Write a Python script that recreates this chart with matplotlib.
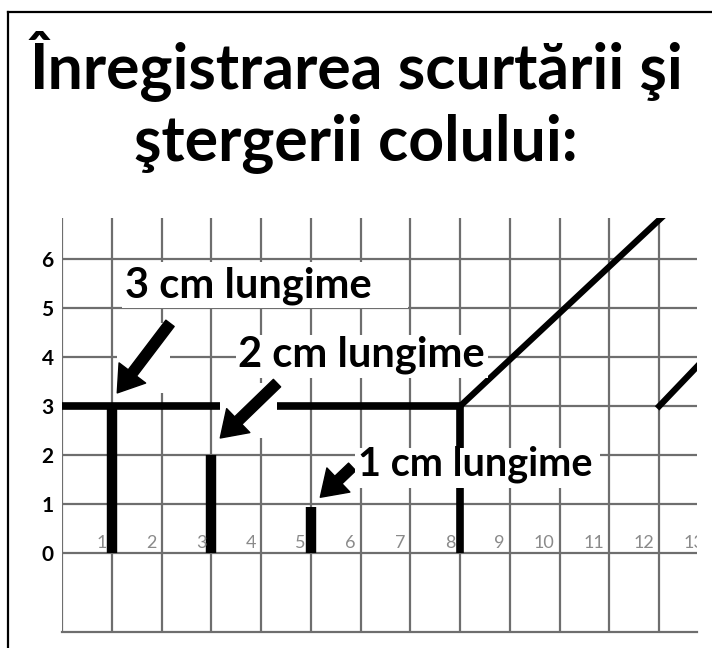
import matplotlib
matplotlib.use("Agg")
import matplotlib.pyplot as plt
from matplotlib.patches import Rectangle
from matplotlib.lines import Line2D

plt.rcParams['font.family'] = ['Lato', 'DejaVu Sans']

title_lines = ["Înregistrarea scurtării şi", "ştergerii colului:"]

hours = list(range(13))
hour_labels = [str(h) for h in range(1, 14)]
cm_ticks = list(range(7))

# cervix length marks (scurtare)
cervix_x = [1, 3, 5]
cervix_len = [3, 2, 0.95]

# dilation record, alert and action lines
dilation_x = [0, 8, 8]
dilation_y = [3, 3, 0]
alert_x = [8, 12.05]
alert_y = [3, 6.85]
action_x = [12, 12.8]
action_y = [3, 3.85]

labels = ["3 cm lungime", "2 cm lungime", "1 cm lungime"]
label_xy = [(1.27, 5.22), (3.54, 3.80), (5.95, 1.59)]
label_box = [(1.21, 5.0, 6.95, 5.94), (3.50, 3.57, 8.55, 4.45), (5.89, 1.33, 10.81, 2.14)]
label_fs = [30, 30, 28.5]
arrow_tail = [(2.17, 4.69), (4.32, 3.47), (5.83, 1.76)]
arrow_tip = [(1.11, 3.27), (3.18, 2.35), (5.19, 1.14)]

fig = plt.figure(figsize=(7.12, 6.48), dpi=100)

# frame around the slide
fig.add_artist(Line2D([0.0112, 0.0112], [0.0, 0.9815], color="black", lw=1.6))
fig.add_artist(Line2D([0.0112, 1.0], [0.9815, 0.9815], color="black", lw=1.6))

fig.text(0.5, 0.864, title_lines[0], ha="center", va="baseline",
         fontsize=45, fontweight="bold")
fig.text(0.5, 0.753, title_lines[1], ha="center", va="baseline",
         fontsize=45, fontweight="bold")

ax = fig.add_axes([0.0871, 0.0247, 0.8919, 0.6389])
ax.set_xlim(0, 12.76)
ax.set_ylim(-1.61, 6.84)

ax.set_xticks(hours)
ax.set_yticks(cm_ticks)
ax.set_xticklabels([])
ax.set_yticklabels([str(c) for c in cm_ticks], fontsize=15, fontweight="bold")
ax.tick_params(length=0, pad=6)
ax.set_axisbelow(True)
ax.grid(True, color="#6e6e6e", lw=1.6)
for side in ["top", "right", "left"]:
    ax.spines[side].set_visible(False)
ax.spines["bottom"].set_color("#6e6e6e")
ax.spines["bottom"].set_linewidth(1.6)

# faint hour numbers printed on the chart paper
for i, lab in enumerate(hour_labels):
    ax.text(i + 1 - 0.1, 0.04, lab, ha="right", va="bottom", fontsize=13,
            color="#8a8a8a", clip_on=True)

ax.vlines(cervix_x, 0, cervix_len, color="black", lw=7.5, zorder=2)
ax.plot(dilation_x, dilation_y, color="black", lw=5.5, zorder=2,
        solid_joinstyle="miter", solid_capstyle="butt")
ax.plot(alert_x, alert_y, color="black", lw=4.5, zorder=2)
ax.plot(action_x, action_y, color="black", lw=4.5, zorder=2)

for (tx, ty), (hx, hy) in zip(arrow_tail, arrow_tip):
    x0, x1 = min(tx, hx), max(tx, hx)
    y0, y1 = min(ty, hy), max(ty, hy)
    ax.add_patch(Rectangle((x0, y0), x1 - x0, y1 - y0, fc="white", ec="none", zorder=3))
    ax.annotate("", xy=(hx, hy), xytext=(tx, ty),
                arrowprops=dict(arrowstyle="simple,head_length=1.2,head_width=1.6,tail_width=0.5",
                                fc="black", ec="black", shrinkA=0, shrinkB=0,
                                mutation_scale=15),
                zorder=4)

for lab, (lx, ly), (bx0, by0, bx1, by1), fs in zip(labels, label_xy, label_box, label_fs):
    ax.add_patch(Rectangle((bx0, by0), bx1 - bx0, by1 - by0, fc="white", ec="none", zorder=5))
    ax.text(lx, ly, lab, ha="left", va="baseline", fontsize=fs,
            fontweight="bold", zorder=6)

fig.savefig("out.png", dpi=100)
